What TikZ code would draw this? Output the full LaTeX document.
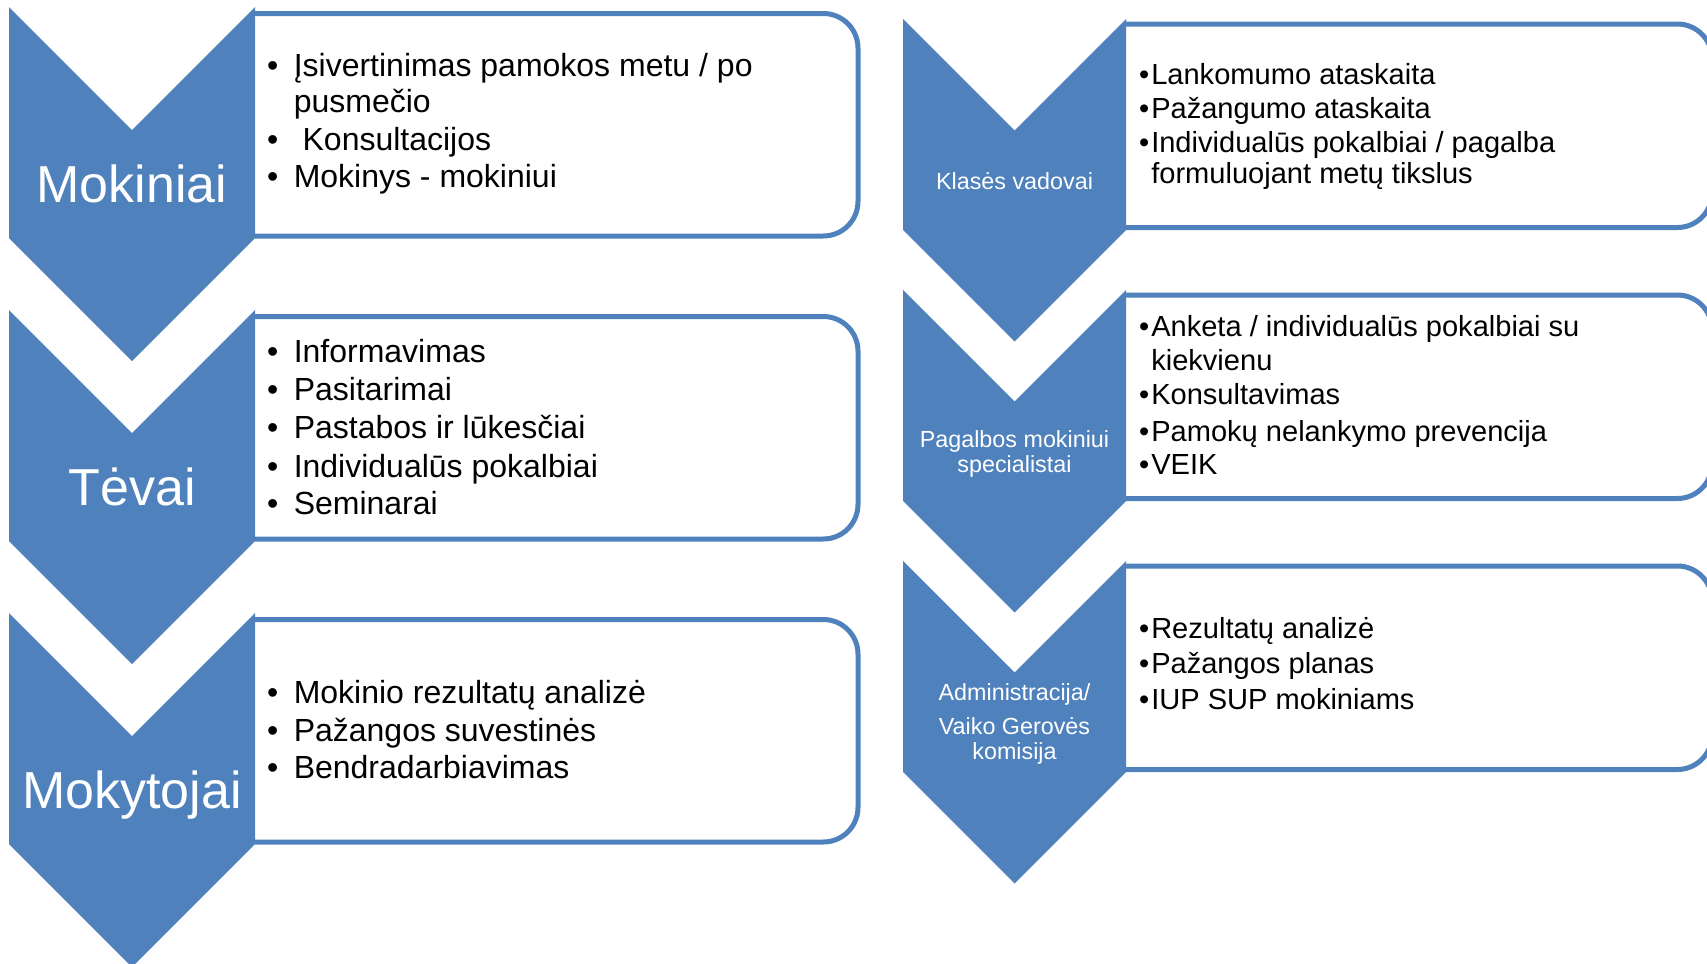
\documentclass[tikz,border=0pt]{standalone}
\usepackage{fontspec}
\setmainfont{Liberation Sans}
\definecolor{acc}{HTML}{4F81BD}
\tikzset{
 chev/.style={fill=acc, draw=none},
 listbox/.style={fill=white, draw=acc, line width=3.75pt, rounded corners=26pt},
 bigl/.style={text=white, font=\fontsize{39}{44}\selectfont, anchor=base, inner sep=0pt},
 smalll/.style={text=white, font=\fontsize{17.5}{20}\selectfont, anchor=base, inner sep=0pt},
 itl/.style={text=black, font=\fontsize{24}{28}\selectfont, anchor=base west, inner sep=0pt},
 itr/.style={text=black, font=\fontsize{21.8}{25}\selectfont, anchor=base west, inner sep=0pt},
}
\newcommand{\bulL}{\llap{•\hspace{11.5pt}}}
\newcommand{\bulR}{\llap{•\hspace{1.5pt}}}
\begin{document}
\begin{tikzpicture}[x=0.75pt, y=-0.75pt]
\useasboundingbox (0,0) rectangle (1707,964);
\clip (0,0) rectangle (1707,964);

% left boxes
\draw[listbox] (255,13.5) -- (858,13.5) -- (858,236) -- (255,236);
\draw[listbox] (255,316.5) -- (858,316.5) -- (858,539) -- (255,539);
\draw[listbox] (255,619.5) -- (858,619.5) -- (858,842) -- (255,842);
% right boxes
\draw[listbox] (1126,24) -- (1712,24) -- (1712,227.5) -- (1126,227.5);
\draw[listbox] (1126,295) -- (1712,295) -- (1712,498.5) -- (1126,498.5);
\draw[listbox] (1126,566) -- (1712,566) -- (1712,769.5) -- (1126,769.5);

% left chevrons
\fill[chev] (9,7) -- (132,130) -- (255,7) -- (255,238) -- (132,361) -- (9,238) -- cycle;
\fill[chev] (9,310) -- (132,433) -- (255,310) -- (255,541) -- (132,664) -- (9,541) -- cycle;
\fill[chev] (9,613) -- (132,736) -- (255,613) -- (255,844) -- (132,967) -- (9,844) -- cycle;
% right chevrons
\fill[chev] (903,19) -- (1014.5,130.5) -- (1126,19) -- (1126,230) -- (1014.5,341.5) -- (903,230) -- cycle;
\fill[chev] (903,290) -- (1014.5,401.5) -- (1126,290) -- (1126,501) -- (1014.5,612.5) -- (903,501) -- cycle;
\fill[chev] (903,561) -- (1014.5,672.5) -- (1126,561) -- (1126,772) -- (1014.5,883.5) -- (903,772) -- cycle;

% chevron labels
\node[bigl] (mok) at (132,202) {Mokiniai};
\node[bigl] (tev) at (132,505) {Tėvai};
\node[bigl] (mkt) at (132,808) {Mokytojai};
\node[smalll] (kv) at (1014.5,189) {Klasės vadovai};
\node[smalll] (pm1) at (1014.5,447) {Pagalbos mokiniui};
\node[smalll] (pm2) at (1014.5,472) {specialistai};
\node[smalll] (ad1) at (1014.5,700) {Administracija/};
\node[smalll] (ad2) at (1014.5,734) {Vaiko Gerovės};
\node[smalll] (ad3) at (1014.5,759) {komisija};

% left box 1
\node[itl] (l1a) at (293.5,76) {\bulL Įsivertinimas pamokos metu / po};
\node[itl] (l1b) at (293.5,112) {pusmečio};
\node[itl] (l1c) at (293.5,150) {\bulL\ Konsultacijos};
\node[itl] (l1d) at (293.5,187) {\bulL Mokinys - mokiniui};
% left box 2
\node[itl] (l2a) at (293.5,362) {\bulL Informavimas};
\node[itl] (l2b) at (293.5,400) {\bulL Pasitarimai};
\node[itl] (l2c) at (293.5,438) {\bulL Pastabos ir lūkesčiai};
\node[itl] (l2d) at (293.5,477) {\bulL Individualūs pokalbiai};
\node[itl] (l2e) at (293.5,514) {\bulL Seminarai};
% left box 3
\node[itl] (l3a) at (293.5,703) {\bulL Mokinio rezultatų analizė};
\node[itl] (l3b) at (293.5,741) {\bulL Pažangos suvestinės};
\node[itl] (l3c) at (293.5,778) {\bulL Bendradarbiavimas};

% right box 1
\node[itr] (r1a) at (1151,84) {\bulR Lankomumo ataskaita};
\node[itr] (r1b) at (1151,118) {\bulR Pažangumo ataskaita};
\node[itr] (r1c) at (1151,152) {\bulR Individualūs pokalbiai / pagalba};
\node[itr] (r1d) at (1151,183) {formuluojant metų tikslus};
% right box 2
\node[itr] (r2a) at (1151,336) {\bulR Anketa / individualūs pokalbiai su};
\node[itr] (r2b) at (1151,370) {kiekvienu};
\node[itr] (r2c) at (1151,404) {\bulR Konsultavimas};
\node[itr] (r2d) at (1151,441) {\bulR Pamokų nelankymo prevencija};
\node[itr] (r2e) at (1151,474) {\bulR VEIK};
% right box 3
\node[itr] (r3a) at (1151,638) {\bulR Rezultatų analizė};
\node[itr] (r3b) at (1151,673) {\bulR Pažangos planas};
\node[itr] (r3c) at (1151,709) {\bulR IUP SUP mokiniams};
\end{tikzpicture}
\end{document}
